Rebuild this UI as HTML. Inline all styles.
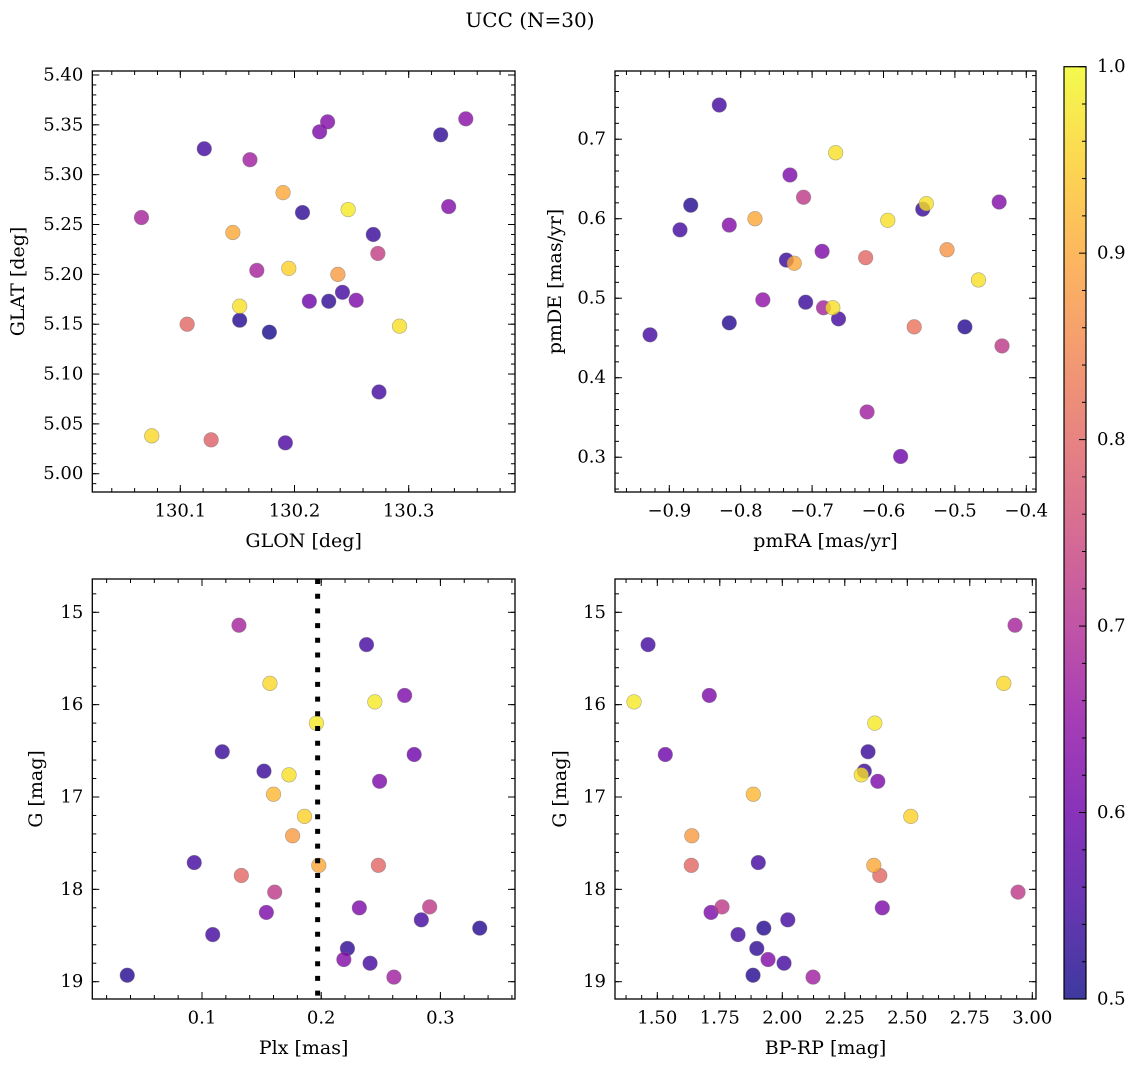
<!DOCTYPE html>
<html><head><meta charset="utf-8"><title>UCC (N=30)</title>
<style>
html,body{margin:0;padding:0;background:#fff;}
svg{display:block;font-family:"DejaVu Serif","Liberation Serif",serif;}
</style></head>
<body>
<svg id="fig" xmlns="http://www.w3.org/2000/svg" width="1136" height="1067" viewBox="0 0 1136 1067">
<defs>
<linearGradient id="plasma" x1="0" y1="1" x2="0" y2="0">
<stop offset="0" stop-color="#0d0887"/><stop offset="0.1" stop-color="#41049d"/>
<stop offset="0.2" stop-color="#6a00a8"/><stop offset="0.3" stop-color="#8f0da4"/>
<stop offset="0.4" stop-color="#b12a90"/><stop offset="0.5" stop-color="#cc4778"/>
<stop offset="0.6" stop-color="#e16462"/><stop offset="0.7" stop-color="#f2844b"/>
<stop offset="0.8" stop-color="#fca636"/><stop offset="0.9" stop-color="#fcce25"/>
<stop offset="1" stop-color="#f0f921"/>
</linearGradient>
</defs>
<text x="530" y="20" font-size="20" text-anchor="middle" dominant-baseline="central">UCC (N=30)</text>
</svg>
<script>
// ---- data ----
const glon = [130.066,130.121,130.161,130.222,130.229,130.328,130.350,130.190,130.207,130.247,130.335,130.146,130.269,130.273,130.167,130.195,130.238,130.213,130.230,130.242,130.254,130.152,130.152,130.178,130.106,130.292,130.274,130.075,130.127,130.192];
const glat = [5.257,5.326,5.315,5.343,5.353,5.340,5.356,5.282,5.262,5.265,5.268,5.242,5.240,5.221,5.204,5.206,5.200,5.173,5.173,5.182,5.174,5.168,5.154,5.142,5.150,5.148,5.082,5.038,5.034,5.031];
const prob1 = [0.68,0.55,0.67,0.62,0.63,0.53,0.64,0.9,0.53,0.98,0.63,0.9,0.54,0.73,0.68,0.95,0.88,0.6,0.53,0.55,0.62,0.97,0.52,0.51,0.8,0.97,0.55,0.96,0.79,0.56];

const pmra = [-0.830,-0.667,-0.731,-0.712,-0.870,-0.545,-0.540,-0.438,-0.780,-0.594,-0.885,-0.816,-0.511,-0.686,-0.625,-0.736,-0.725,-0.467,-0.769,-0.709,-0.684,-0.671,-0.663,-0.816,-0.557,-0.486,-0.927,-0.434,-0.623,-0.576];
const pmde = [0.743,0.683,0.655,0.627,0.617,0.612,0.619,0.621,0.600,0.598,0.586,0.592,0.561,0.559,0.551,0.548,0.544,0.523,0.498,0.495,0.488,0.488,0.474,0.469,0.464,0.464,0.454,0.440,0.357,0.301];
const prob2 = [0.55,0.97,0.62,0.72,0.52,0.54,0.97,0.63,0.9,0.97,0.55,0.63,0.87,0.62,0.8,0.54,0.9,0.97,0.65,0.54,0.68,0.97,0.55,0.52,0.82,0.52,0.55,0.72,0.67,0.6];

const plx  = [0.131,0.238,0.157,0.270,0.245,0.196,0.117,0.278,0.152,0.173,0.249,0.160,0.186,0.176,0.0935,0.198,0.248,0.133,0.161,0.232,0.291,0.154,0.284,0.333,0.109,0.222,0.219,0.241,0.261,0.0373];
const gmag = [15.14,15.35,15.77,15.90,15.97,16.20,16.51,16.54,16.72,16.76,16.83,16.97,17.21,17.42,17.71,17.74,17.74,17.85,18.03,18.20,18.19,18.25,18.33,18.42,18.49,18.64,18.76,18.80,18.95,18.93];
const bprp = [2.931,1.463,2.886,1.708,1.407,2.370,2.343,1.532,2.328,2.316,2.382,1.884,2.514,1.638,1.904,2.366,1.636,2.390,2.943,2.400,1.759,1.715,2.022,1.926,1.823,1.898,1.943,2.007,2.123,1.883];
const prob3 = [0.68,0.55,0.96,0.62,0.98,0.98,0.54,0.6,0.54,0.97,0.62,0.92,0.95,0.88,0.55,0.9,0.8,0.8,0.72,0.62,0.72,0.62,0.55,0.52,0.55,0.53,0.63,0.55,0.67,0.52];

const plxRef = [0.197];
const glonTicks = [130.1,130.2,130.3];
const glatTicks = [5.00,5.05,5.10,5.15,5.20,5.25,5.30,5.35,5.40];
const pmraTicks = [-0.9,-0.8,-0.7,-0.6,-0.5,-0.4];
const pmdeTicks = [0.3,0.4,0.5,0.6,0.7];
const plxTicks = [0.1,0.2,0.3];
const gTicks = [15,16,17,18,19];
const bprpTicks = [1.50,1.75,2.00,2.25,2.50,2.75,3.00];
const cbarTicks = [0.5,0.6,0.7,0.8,0.9,1.0];

// ---- helpers ----
const NS = "http://www.w3.org/2000/svg";
const svg = document.getElementById("fig");
function mk(tag, attrs, parent){
  const e = document.createElementNS(NS, tag);
  for (const k in attrs) e.setAttribute(k, attrs[k]);
  (parent||svg).appendChild(e);
  return e;
}
const stops = [[13,8,135],[65,4,157],[106,0,168],[143,13,164],[177,42,144],[204,71,120],[225,100,98],[242,132,75],[252,166,54],[252,206,37],[240,249,33]];
function plasma(v){
  let t = (v-0.5)/0.5; t = Math.max(0, Math.min(1, t));
  const f = t*10, i = Math.min(9, Math.floor(f)), u = f-i;
  const a = stops[i], b = stops[i+1];
  return "rgb(" + [0,1,2].map(k => Math.round(a[k]+(b[k]-a[k])*u)).join(",") + ")";
}
const fmtMinus = s => s.replace("-", "\u2212");

function panel(cfg){
  const g = mk("g", {});
  
  
  const sx = v => cfg.x0 + (v - cfg.xmin)/(cfg.xmax - cfg.xmin)*(cfg.x1 - cfg.x0);
  const sy = cfg.invert
    ? v => cfg.y0 + (v - cfg.ymin)/(cfg.ymax - cfg.ymin)*(cfg.y1 - cfg.y0)
    : v => cfg.y1 - (v - cfg.ymin)/(cfg.ymax - cfg.ymin)*(cfg.y1 - cfg.y0);
  // points, drawn in increasing probability
  const idx = cfg.c.map((_, i) => i).sort((a, b) => cfg.c[a] - cfg.c[b]);
  idx.forEach(i => {
    const p = mk("circle", {cx:sx(cfg.x[i]), cy:sy(cfg.y[i]), r:7.3, fill:plasma(cfg.c[i]), "fill-opacity":0.8, stroke:"#777", "stroke-opacity":0.6, "stroke-width":0.6}, g);
    
    
  });
  // reference line (on top of points)
  if (cfg.vline){
    cfg.vline.forEach(v => {
      const l = mk("line", {x1:sx(v), x2:sx(v), y1:cfg.y0, y2:cfg.y1, stroke:"#000", "stroke-width":5, "stroke-dasharray":"5 9.7"}, g);
      
      
    });
  }
  // frame
  const fr = mk("rect", {x:cfg.x0, y:cfg.y0, width:cfg.x1-cfg.x0, height:cfg.y1-cfg.y0, fill:"none", stroke:"#000", "stroke-width":1.3}, g);
  
  
  // minor ticks
  const tk = (x1,y1,x2,y2) => { const t = mk("line", {x1, y1, x2, y2, stroke:"#000", "stroke-width":1}, g); return t; };
  for (let k = Math.ceil(cfg.xmin/cfg.xminor - 1e-6); k*cfg.xminor <= cfg.xmax; k++){
    const X = sx(k*cfg.xminor);
    const a = tk(X, cfg.y1, X, cfg.y1-4);  
    const b = tk(X, cfg.y0, X, cfg.y0+4);  
  }
  for (let k = Math.ceil(Math.min(cfg.ymin,cfg.ymax)/cfg.yminor - 1e-6); k*cfg.yminor <= Math.max(cfg.ymin,cfg.ymax); k++){
    const Y = sy(k*cfg.yminor);
    const a = tk(cfg.x0, Y, cfg.x0+4, Y);  
    const b = tk(cfg.x1, Y, cfg.x1-4, Y);  
  }
  // major ticks + labels
  cfg.xticks.forEach(v => {
    const X = sx(v);
    const a = tk(X, cfg.y1, X, cfg.y1-7);  
    const b = tk(X, cfg.y0, X, cfg.y0+7);  
    const t = mk("text", {x:X, y:cfg.y1+19, "font-size":18, "text-anchor":"middle", "dominant-baseline":"central"}, g);
    t.textContent = fmtMinus(v.toFixed(cfg.xdec));
    
    
  });
  cfg.yticks.forEach(v => {
    const Y = sy(v);
    const a = tk(cfg.x0, Y, cfg.x0+7, Y);  
    const b = tk(cfg.x1, Y, cfg.x1-7, Y);  
    const t = mk("text", {x:cfg.x0-9, y:Y, "font-size":18, "text-anchor":"end", "dominant-baseline":"central"}, g);
    t.textContent = fmtMinus(v.toFixed(cfg.ydec));
    
    
  });
  const xl = mk("text", {x:(cfg.x0+cfg.x1)/2, y:cfg.y1+49, "font-size":19, "text-anchor":"middle", "dominant-baseline":"central"}, g);
  xl.textContent = cfg.xlabel;
  
  
  const yc = (cfg.y0+cfg.y1)/2;
  const yl = mk("text", {x:cfg.ylx, y:yc, "font-size":19, "text-anchor":"middle", "dominant-baseline":"central", transform:"rotate(-90 "+cfg.ylx+" "+yc+")"}, g);
  yl.textContent = cfg.ylabel;
  
  
}

panel({name:"glon-glat-panel", x:glon, y:glat, c:prob1, x0:92.3, x1:515, y0:71, y1:492,
  xmin:130.02294, xmax:130.39308, ymin:4.98166, ymax:5.404, xminor:0.02, yminor:0.01,
  xticks:glonTicks, yticks:glatTicks, xdec:1, ydec:2, xlabel:"GLON [deg]", ylabel:"GLAT [deg]", ylx:18});
panel({name:"pmra-pmde-panel", x:pmra, y:pmde, c:prob2, x0:615, x1:1036, y0:71, y1:492,
  xmin:-0.97605, xmax:-0.38641, ymin:0.25628, ymax:0.7858, xminor:0.02, yminor:0.02,
  xticks:pmraTicks, yticks:pmdeTicks, xdec:1, ydec:1, xlabel:"pmRA [mas/yr]", ylabel:"pmDE [mas/yr]", ylx:555});
panel({name:"plx-g-panel", x:plx, y:gmag, c:prob3, x0:92.3, x1:515, y0:579, y1:999, invert:true,
  xmin:0.00797, xmax:0.36258, ymin:14.6394, ymax:19.1874, xminor:0.02, yminor:0.2,
  xticks:plxTicks, yticks:gTicks, xdec:1, ydec:0, xlabel:"Plx [mas]", ylabel:"G [mag]", ylx:36, vline:plxRef});
panel({name:"bprp-g-panel", x:bprp, y:gmag, c:prob3, x0:615, x1:1036, y0:579, y1:999, invert:true,
  xmin:1.3308, xmax:3.0148, ymin:14.6394, ymax:19.1874, xminor:0.0625, yminor:0.2,
  xticks:bprpTicks, yticks:gTicks, xdec:2, ydec:0, xlabel:"BP-RP [mag]", ylabel:"G [mag]", ylx:560});

// ---- colorbar ----
const cb = mk("g", {});


const cbx0 = 1064, cbx1 = 1086, cby0 = 66.7, cby1 = 999;
const cy = v => cby1 - (v-0.5)/0.5*(cby1-cby0);
const cbr = mk("rect", {x:cbx0, y:cby0, width:cbx1-cbx0, height:cby1-cby0, fill:"url(#plasma)", "fill-opacity":0.8, stroke:"#000", "stroke-width":1.2}, cb);


for (let k = 25; k <= 50; k++){
  const v = k*0.02, Y = cy(v);
  const major = (k % 5 === 0);
  const t = mk("line", {x1:cbx1, x2:cbx1-(major?7:4), y1:Y, y2:Y, stroke:"#000", "stroke-width":1}, cb);
  
  
}
cbarTicks.forEach(v => {
  const t = mk("text", {x:1097, y:cy(v), "font-size":18, "dominant-baseline":"central"}, cb);
  t.textContent = v.toFixed(1);
  
  
});
</script>
</body></html>
